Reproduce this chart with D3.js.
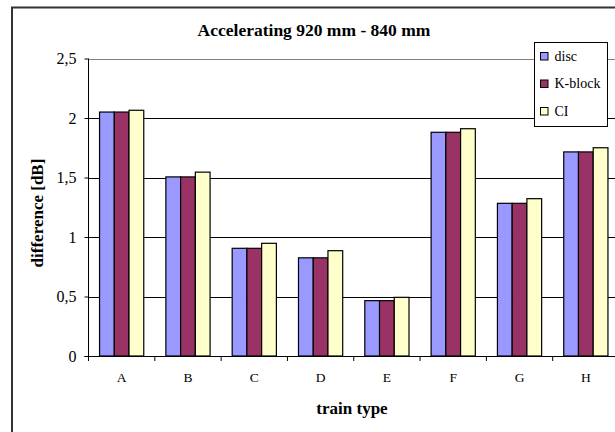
<!DOCTYPE html>
<html lang="en">
<head>
    <meta charset="UTF-8">
    <title>Accelerating 920 mm - 840 mm</title>
    <script src="https://d3js.org/d3.v7.min.js"></script>
    <style>
        body { margin: 0; background: #fff; }
        svg { display: block; }
        svg text { font-family: "Liberation Serif", Tinos, "Times New Roman", Times, "DejaVu Serif"; fill: #000; }
    </style>
</head>
<body>
    <svg id="chart" width="615" height="432"></svg>
    <script>
        // Data
        const categories = ['A', 'B', 'C', 'D', 'E', 'F', 'G', 'H'];
        const seriesNames = ['disc', 'K-block', 'CI'];
        const discValues = [2.05, 1.505, 0.905, 0.825, 0.465, 1.88, 1.283, 1.715];
        const kblockValues = [2.05, 1.505, 0.905, 0.825, 0.465, 1.88, 1.283, 1.715];
        const ciValues = [2.065, 1.545, 0.947, 0.885, 0.493, 1.91, 1.322, 1.75];
        const yTicks = [0, 0.5, 1, 1.5, 2, 2.5];
        const colors = ['#9999FF', '#993366', '#FFFFCC'];

        const series = [discValues, kblockValues, ciValues];
        const serif = '"Liberation Serif", Tinos, "Times New Roman", Times, "DejaVu Serif"';

        const svg = d3.select('#chart');

        // Plot area
        const plotLeft = 88.5, plotRight = 619, plotTop = 58.5, plotBottom = 356;

        // Outer chart border
        svg.append('rect')
            .attr('x', 12).attr('y', 7.5)
            .attr('width', 640).attr('height', 460)
            .attr('fill', '#fff')
            .attr('stroke', '#333')
            .attr('stroke-width', 2);

        const x = d3.scaleBand().domain(categories).range([plotLeft, plotRight]).padding(0);
        const barW = x.bandwidth() / 4.5;   // gap width 150%
        const xs = d3.scaleBand().domain(seriesNames)
            .range([barW * 0.75, barW * 0.75 + barW * 3]);
        const y = d3.scaleLinear().domain([0, 2.5]).range([plotBottom, plotTop]);

        const fmt = d3.formatLocale({ decimal: ',', thousands: '.', grouping: [3], currency: ['', ''] }).format('~g');

        // Gridlines
        svg.append('g')
            .selectAll('line')
            .data(yTicks.filter(d => d > 0))
            .enter().append('line')
            .attr('x1', plotLeft).attr('x2', plotRight)
            .attr('y1', d => Math.round(y(d)) + 0.5)
            .attr('y2', d => Math.round(y(d)) + 0.5)
            .attr('stroke', d => d === 2.5 ? '#808080' : '#000')
            .attr('stroke-width', 1);

        // Bars
        const groups = svg.append('g')
            .selectAll('g')
            .data(categories)
            .enter().append('g')
            .attr('transform', d => `translate(${x(d)},0)`);

        groups.selectAll('rect')
            .data((d, i) => seriesNames.map((s, j) => ({ s, j, v: series[j][i] })))
            .enter().append('rect')
            .attr('x', d => xs(d.s))
            .attr('width', xs.bandwidth())
            .attr('y', d => y(d.v))
            .attr('height', d => y(0) - y(d.v))
            .attr('fill', d => colors[d.j])
            .attr('stroke', '#000')
            .attr('stroke-width', 1.2);

        // Y axis
        const yAxis = svg.append('g')
            .attr('transform', `translate(${plotLeft},0)`)
            .call(d3.axisLeft(y).tickValues(yTicks).tickSize(4).tickPadding(8).tickFormat(fmt));
        yAxis.attr('font-family', null).attr('font-size', null);
        yAxis.select('.domain').attr('stroke', '#000').attr('d', `M0,${plotTop}V${plotBottom}`);
        yAxis.selectAll('.tick line').attr('stroke', '#000');
        yAxis.selectAll('text')
            .style('font-family', serif)
            .style('font-size', '16px')
            .attr('fill', '#000');

        // X axis: ticks at category boundaries
        const xAxisG = svg.append('g');
        xAxisG.append('line')
            .attr('x1', plotLeft - 4).attr('x2', plotRight)
            .attr('y1', plotBottom + 0.5).attr('y2', plotBottom + 0.5)
            .attr('stroke', '#000');
        xAxisG.selectAll('.xtick')
            .data(categories)
            .enter().append('line')
            .attr('class', 'xtick')
            .attr('x1', d => x(d)).attr('x2', d => x(d))
            .attr('y1', plotBottom).attr('y2', plotBottom + 5)
            .attr('stroke', '#000');
        xAxisG.selectAll('.xlabel')
            .data(categories)
            .enter().append('text')
            .attr('class', 'xlabel')
            .attr('x', d => x(d) + x.bandwidth() / 2)
            .attr('y', 382)
            .attr('text-anchor', 'middle')
            .style('font-family', serif)
            .style('font-size', '13.5px')
            .text(d => d);

        // Titles
        svg.append('text')
            .attr('x', 314).attr('y', 36)
            .attr('text-anchor', 'middle')
            .style('font-family', serif)
            .style('font-size', '17.5px')
            .style('font-weight', 'bold')
            .text('Accelerating 920 mm - 840 mm');

        svg.append('text')
            .attr('x', 352).attr('y', 414)
            .attr('text-anchor', 'middle')
            .style('font-family', serif)
            .style('font-size', '17px')
            .style('font-weight', 'bold')
            .text('train type');

        svg.append('text')
            .attr('transform', 'translate(43,213) rotate(-90)')
            .attr('text-anchor', 'middle')
            .style('font-family', serif)
            .style('font-size', '17px')
            .style('font-weight', 'bold')
            .text('difference [dB]');

        // Legend
        const legend = svg.append('g').attr('transform', 'translate(534.5,42.5)');
        legend.append('rect')
            .attr('width', 73).attr('height', 84)
            .attr('fill', '#fff')
            .attr('stroke', '#000');
        const item = legend.selectAll('.item')
            .data(seriesNames)
            .enter().append('g')
            .attr('class', 'item')
            .attr('transform', (d, i) => `translate(6,${10 + i * 27.5})`);
        item.append('rect')
            .attr('width', 7.5).attr('height', 7.5)
            .attr('fill', (d, i) => colors[i])
            .attr('stroke', '#000');
        item.append('text')
            .attr('x', 14).attr('y', 8)
            .style('font-family', serif)
            .style('font-size', '14px')
            .text(d => d);
    </script>
</body>
</html>
